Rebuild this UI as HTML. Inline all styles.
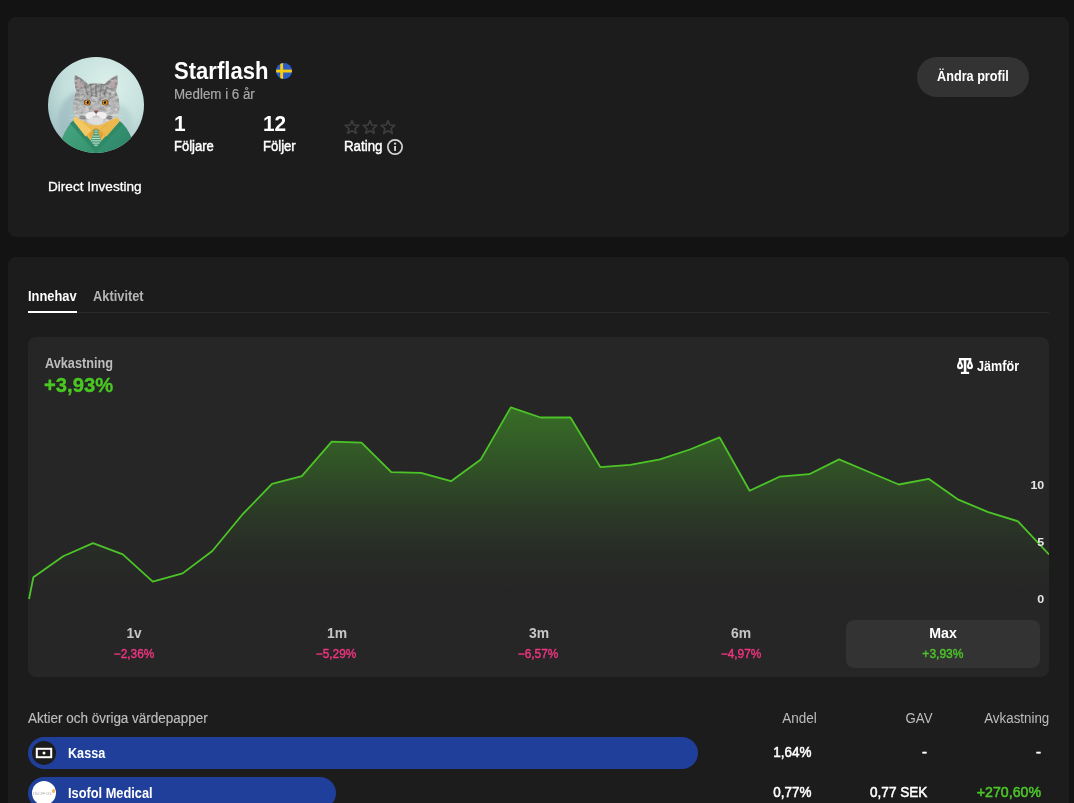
<!DOCTYPE html>
<html lang="sv">
<head>
<meta charset="utf-8">
<title>Starflash</title>
<style>
html,body{margin:0;padding:0;}
body{width:1074px;height:803px;overflow:hidden;background:#131313;position:relative;font-family:"Liberation Sans",sans-serif;}
.abs{position:absolute;}
.t{position:absolute;white-space:nowrap;line-height:1;}
.card{position:absolute;left:8px;width:1061px;background:#1c1c1c;border-radius:8px;}
</style>
</head>
<body>
<div class="card" style="top:17px;height:220px;"></div>
<div class="card" style="top:257px;height:600px;"></div>

<!-- avatar -->
<svg class="abs" style="left:48px;top:57px;" width="96" height="96" viewBox="0 0 96 96">
<defs>
<radialGradient id="abg" cx="0.62" cy="0.3" r="0.75"><stop offset="0" stop-color="#dcf0ea"/><stop offset="0.6" stop-color="#c4dfdc"/><stop offset="1" stop-color="#a3c2c6"/></radialGradient>
<clipPath id="ac"><circle cx="48" cy="48" r="48"/></clipPath>
</defs>
<g clip-path="url(#ac)">
<rect width="96" height="96" fill="url(#abg)"/>
<!--AV0--><defs>
<linearGradient id="fur" x1="0" y1="0" x2="0" y2="1"><stop offset="0" stop-color="#8c8c8c"/><stop offset="0.45" stop-color="#a8a8a8"/><stop offset="0.75" stop-color="#bcbcbc"/><stop offset="1" stop-color="#cfcfcf"/></linearGradient>
<radialGradient id="eye" cx="0.5" cy="0.5" r="0.5"><stop offset="0.3" stop-color="#f3a61c"/><stop offset="1" stop-color="#c8720a"/></radialGradient>
<linearGradient id="sw" x1="0" y1="0" x2="1" y2="0.4"><stop offset="0" stop-color="#48a581"/><stop offset="0.5" stop-color="#3b9a75"/><stop offset="1" stop-color="#2f876b"/></linearGradient>
<filter id="bl" x="-20%" y="-20%" width="140%" height="140%"><feGaussianBlur stdDeviation="0.7"/></filter>
<filter id="bl2" x="-30%" y="-30%" width="160%" height="160%"><feGaussianBlur stdDeviation="2.2"/></filter>
<filter id="furf" x="-5%" y="-5%" width="110%" height="110%">
<feTurbulence type="fractalNoise" baseFrequency="0.22 0.35" numOctaves="2" seed="7" result="n"/>
<feColorMatrix in="n" type="matrix" values="0 0 0 0 0  0 0 0 0 0  0 0 0 0 0  1.1 0 0 0 -0.42" result="a"/>
<feFlood flood-color="#ffffff" result="w"/>
<feComposite in="w" in2="a" operator="in" result="wn"/>
<feComposite in="wn" in2="SourceAlpha" operator="in" result="wn2"/>
<feTurbulence type="fractalNoise" baseFrequency="0.3 0.2" numOctaves="2" seed="3" result="n2"/>
<feColorMatrix in="n2" type="matrix" values="0 0 0 0 0  0 0 0 0 0  0 0 0 0 0  0 1.0 0 0 -0.42" result="a2"/>
<feFlood flood-color="#4a4a4a" result="d"/>
<feComposite in="d" in2="a2" operator="in" result="dn"/>
<feComposite in="dn" in2="SourceAlpha" operator="in" result="dn2"/>
<feMerge><feMergeNode in="SourceGraphic"/><feMergeNode in="dn2"/><feMergeNode in="wn2"/></feMerge>
</filter>
</defs>
<!-- soft shadow behind cat -->
<ellipse cx="34" cy="64" rx="24" ry="30" fill="#97b4bc" opacity="0.6" filter="url(#bl2)"/>
<ellipse cx="70" cy="66" rx="14" ry="18" fill="#a9c6c8" opacity="0.5" filter="url(#bl2)"/>
<!-- sweater -->
<path d="M25.5 63.5 C20 68 16 76 12 86 L10 100 L86 100 L84 82 C81 74 77 68 71.5 64 L48 89 Z" fill="url(#sw)"/>
<path d="M25.5 63.5 L48 89 L71.5 64 L75 67 L48 96 L22 66.5 Z" fill="#2f8a68"/>
<path d="M25.5 63.5 L48 89 L71.5 64" fill="none" stroke="#256f52" stroke-width="0.5"/>
<!-- shirt -->
<path d="M26.5 59.5 L70 60.5 L71.5 64.5 L48 89.5 L25.5 64 Z" fill="#eebb52"/>
<path d="M26.5 59.5 L36 66 L44.5 73 L37.5 79.5 L25.5 64 Z" fill="#f4c964"/>
<path d="M70 60.5 L60 66 L51.5 73 L58.5 79.5 L71.5 64.5 Z" fill="#eab84d"/>
<path d="M44.5 73 L48 70.5 L51.5 73 L55.5 78 L48 89.5 L40.5 78 Z" fill="#dfa238"/>
<path d="M36 66 L44.5 73 L37.5 79.5 M60 66 L51.5 73 L58.5 79.5" fill="none" stroke="#cf9a3a" stroke-width="0.4"/>
<!-- tie -->
<path d="M45.2 72.5 L50.8 72.5 L50.2 76 L53.6 84 L48 90 L42.4 84 L45.8 76 Z" fill="#459c79"/>
<g stroke="#e6f2ea" stroke-width="0.85" opacity="0.92"><path d="M44.6 79.2 L51.4 79.2 M43.7 81.5 L52.3 81.5 M43 83.8 L53 83.8 M44.4 86.1 L51.6 86.1 M46.2 88.2 L49.8 88.2 M46.4 74 L49.8 74 M46.4 76.3 L49.6 76.3"/></g>
<!-- ears -->
<g filter="url(#furf)">
<path d="M27 18.2 C25.8 24 27 31 29.5 37 L41 28.5 C37 23.5 31 19.5 27 18.2 Z" fill="#8b888a"/>
<path d="M69.3 18.2 C70.5 24 69.3 31 66.8 37 L55.3 28.5 C59.3 23.5 65.3 19.5 69.3 18.2 Z" fill="#8b888a"/>
</g>
<path d="M28.8 22.5 C28.4 26 29.4 30 31 33 L35.5 28.8 C33.5 25.8 31 23.5 28.8 22.5 Z" fill="#b9a3a6" filter="url(#bl)"/>
<path d="M67.5 22.5 C67.9 26 66.9 30 65.3 33 L60.8 28.8 C62.8 25.8 65.3 23.5 67.5 22.5 Z" fill="#b9a3a6" filter="url(#bl)"/>
<!-- head -->
<g filter="url(#furf)">
<path d="M29.5 33 C33 28 41 26.2 48 26.4 C55 26.2 63 28 67 33 C70.5 38 72.3 47 71 53.5 C70 59 66 62.5 60.5 64 C57 66.8 52 68.3 48 68.3 C44 68.3 39 66.8 35.5 64 C30 62.5 26.3 59 25.3 53.5 C24 47 25.8 38 29.5 33 Z" fill="url(#fur)"/>
</g>
<!-- dark stripes forehead -->
<g filter="url(#bl)" opacity="0.42"><path d="M42.5 27 L44 39 M48 26.5 L48 40 M53.5 27 L52 39 M37 29.5 L40 38 M59 29.5 L56 38" stroke="#555" stroke-width="1.7" fill="none"/></g>
<!-- light muzzle -->
<g filter="url(#bl)"><ellipse cx="43.2" cy="58.8" rx="6" ry="3.8" fill="#f0f0f0"/><ellipse cx="52.8" cy="58.8" rx="6" ry="3.8" fill="#f0f0f0"/><ellipse cx="48" cy="63.5" rx="7.5" ry="4" fill="#dedede"/>
<ellipse cx="48" cy="51" rx="3" ry="5" fill="#b5b5b5" opacity="0.7"/></g>
<g filter="url(#bl)" opacity="0.65"><ellipse cx="34.5" cy="60.5" rx="3.2" ry="2" fill="#666"/><ellipse cx="61.5" cy="60.5" rx="3.2" ry="2" fill="#666"/></g>
<!-- eyes -->
<ellipse cx="39.3" cy="45.4" rx="3.3" ry="3" fill="#4f4436"/>
<ellipse cx="57.2" cy="45.4" rx="3.3" ry="3" fill="#4f4436"/>
<circle cx="39.3" cy="45.5" r="2.6" fill="url(#eye)"/>
<circle cx="57.2" cy="45.5" r="2.6" fill="url(#eye)"/>
<ellipse cx="39.7" cy="45.3" rx="1.05" ry="1.6" fill="#170f06"/>
<ellipse cx="56.9" cy="45.3" rx="1.05" ry="1.6" fill="#170f06"/>
<circle cx="38.6" cy="44.3" r="0.5" fill="#fff" opacity="0.8"/><circle cx="56" cy="44.3" r="0.5" fill="#fff" opacity="0.8"/>
<!-- nose -->
<path d="M45.6 53.4 L50.6 53.4 L48.1 57 Z" fill="#884848"/>
<path d="M48.1 57 L48.1 59.2 M48.1 59.2 C47 60.3 45.5 60.2 44.8 59.4 M48.1 59.2 C49.2 60.3 50.7 60.2 51.4 59.4" stroke="#8a7f7f" stroke-width="0.5" fill="none"/>
<!-- whiskers -->
<g stroke="#eef4f4" stroke-width="0.3" opacity="0.75"><path d="M37 58 L21 58.5 M37 59.5 L22 62.5 M59 58 L75 58.5 M59 59.5 L74 62.5"/></g>
<!--AV1-->
</g>
</svg>

<!-- flag -->
<svg class="abs" style="left:276px;top:63px;" width="16" height="16" viewBox="0 0 16 16">
<defs><clipPath id="fc"><circle cx="8" cy="8" r="8"/></clipPath></defs>
<g clip-path="url(#fc)"><rect width="16" height="16" fill="#2b5cc6"/><rect x="4.2" y="0" width="2.9" height="16" fill="#f8cb10"/><rect x="0" y="6.6" width="16" height="2.9" fill="#f8cb10"/></g>
</svg>

<!-- stars -->
<svg class="abs" style="left:344px;top:119px;" width="54" height="17" viewBox="0 0 54 17">
<g fill="none" stroke="#3d3d3d" stroke-width="1.75" stroke-linejoin="round">
<path id="st" d="M8 1.6 L9.9 6 L14.7 6.4 L11.1 9.6 L12.2 14.3 L8 11.8 L3.8 14.3 L4.9 9.6 L1.3 6.4 L6.1 6 Z"/>
<use href="#st" x="18"/><use href="#st" x="36"/>
</g>
</svg>

<!-- info icon -->
<svg class="abs" style="left:387px;top:139px;" width="16" height="16" viewBox="0 0 16 16">
<circle cx="8" cy="8" r="7.15" fill="none" stroke="#d4d4d4" stroke-width="1.7"/>
<rect x="7.1" y="7" width="1.9" height="4.9" fill="#d4d4d4"/><circle cx="8.05" cy="4.7" r="1.15" fill="#d4d4d4"/>
</svg>

<!-- button -->
<div class="abs" style="left:917px;top:57px;width:112px;height:40px;border-radius:20px;background:#333333;"></div>

<!-- tabs -->
<div class="abs" style="left:28px;top:312px;width:1021px;height:1px;background:#2b2b2b;"></div>
<div class="abs" style="left:28px;top:311px;width:49px;height:2px;background:#ffffff;"></div>

<!-- panel -->
<div class="abs" style="left:28px;top:337px;width:1021px;height:340px;border-radius:8px;background:#262626;overflow:hidden;">
<svg class="abs" style="left:0;top:0;" width="1021" height="339" viewBox="28 337 1021 339">
<defs><linearGradient id="cg" gradientUnits="userSpaceOnUse" x1="0" y1="407" x2="0" y2="590"><stop offset="0" stop-color="#4cc428" stop-opacity="0.45"/><stop offset="0.3" stop-color="#4cc428" stop-opacity="0.29"/><stop offset="0.6" stop-color="#4cc428" stop-opacity="0.11"/><stop offset="0.8" stop-color="#4cc428" stop-opacity="0.035"/><stop offset="1" stop-color="#4cc428" stop-opacity="0"/></linearGradient></defs>
<path fill="url(#cg)" d="M29 599 L33.4 577.2 L63.2 556.3 L93 543.1 L122.8 554.3 L152.8 581.7 L182.6 573.4 L212.3 551 L242.2 514.7 L272 483.9 L301.8 476.2 L331.7 441.6 L361.5 442.6 L391.3 472.1 L421 472.8 L451 481.2 L480.8 459.4 L510.8 407.4 L540.6 417.5 L570.5 417.5 L600.4 467.1 L630.2 464.8 L660 459.4 L689.8 449.5 L719.6 437.4 L749.6 490.8 L779.4 476.7 L809.2 474.2 L839.1 459.4 L869 472 L898.8 484.5 L928.6 478.8 L958.4 499.7 L988.2 512.1 L1018 521.3 L1049 554.5 L1049 599 Z"/>
<path fill="none" stroke="#4cc428" stroke-width="1.8" stroke-linejoin="round" stroke-linecap="butt" d="M29 599 L33.4 577.2 L63.2 556.3 L93 543.1 L122.8 554.3 L152.8 581.7 L182.6 573.4 L212.3 551 L242.2 514.7 L272 483.9 L301.8 476.2 L331.7 441.6 L361.5 442.6 L391.3 472.1 L421 472.8 L451 481.2 L480.8 459.4 L510.8 407.4 L540.6 417.5 L570.5 417.5 L600.4 467.1 L630.2 464.8 L660 459.4 L689.8 449.5 L719.6 437.4 L749.6 490.8 L779.4 476.7 L809.2 474.2 L839.1 459.4 L869 472 L898.8 484.5 L928.6 478.8 L958.4 499.7 L988.2 512.1 L1018 521.3 L1049 554.5"/>
</svg>
</div>
<!-- max box -->
<div class="abs" style="left:846px;top:620px;width:194px;height:48px;border-radius:8px;background:#333333;"></div>

<!-- compare icon -->
<svg class="abs" style="left:957px;top:357.6px;" width="16" height="17" viewBox="0 0 16 17">
<g fill="#ffffff">
<rect x="2" y="0" width="12.2" height="2.3"/>
<rect x="6.75" y="0" width="2.6" height="14.5"/>
<rect x="3.9" y="13.8" width="8.2" height="2.2"/>
<path fill-rule="evenodd" d="M3 0.6 C2.2 3.4 0 6 0 8.2 A3 3 0 0 0 6 8.2 C6 6 3.8 3.4 3 0.6 Z M3 5.3 C2.6 6.5 2 7.3 2 8 A1 1 0 0 0 4 8 C4 7.3 3.4 6.5 3 5.3 Z"/>
<path fill-rule="evenodd" d="M13 0.6 C12.2 3.4 10 6 10 8.2 A3 3 0 0 0 16 8.2 C16 6 13.8 3.4 13 0.6 Z M13 5.3 C12.6 6.5 12 7.3 12 8 A1 1 0 0 0 14 8 C14 7.3 13.4 6.5 13 5.3 Z"/>
<path d="M1.9 0 L4.4 0 L4.4 3.5 L1.9 3.5 Z M11.7 0 L14.2 0 L14.2 3.5 L11.7 3.5 Z"/>
</g>
</svg>

<!-- bars -->
<div class="abs" style="left:28px;top:737px;width:670px;height:32px;border-radius:16px;background:#1f3f9a;"></div>
<div class="abs" style="left:32px;top:741px;width:24px;height:24px;border-radius:12px;background:#1c1c1c;"></div>
<svg class="abs" style="left:32px;top:741px;" width="24" height="24" viewBox="0 0 24 24"><rect x="4.8" y="7.8" width="14.4" height="8.4" fill="none" stroke="#fff" stroke-width="2"/><circle cx="12" cy="12" r="1.5" fill="#fff"/></svg>

<div class="abs" style="left:28px;top:777px;width:308px;height:32px;border-radius:16px;background:#1f3f9a;"></div>
<div class="abs" style="left:32px;top:781px;width:24px;height:24px;border-radius:12px;background:#ffffff;overflow:hidden;">
<div class="t" style="left:0.8px;top:11.4px;font-size:4.2px;font-weight:400;color:#a8a8a8;letter-spacing:0.15px;transform:scaleX(1.2);transform-origin:0 50%;">ISOFOL</div>
<div class="abs" style="left:19.8px;top:8.4px;width:3.2px;height:3.2px;border-radius:2px;background:#f7b45a;"></div>
</div>

<div class="t" id="name" style="left:174px;top:59.50px;font-size:23px;font-weight:700;color:#ffffff;transform:scaleX(0.9592);transform-origin:0 50%;">Starflash</div>
<div class="t" id="member" style="left:174px;top:87.00px;font-size:14px;font-weight:400;color:#a8a8a8;transform:scaleX(0.9529);transform-origin:0 50%;-webkit-text-stroke:0.2px currentColor;">Medlem i 6 år</div>
<div class="t" id="n1" style="left:174px;top:112.50px;font-size:22px;font-weight:700;color:#ffffff;transform:scaleX(0.9500);transform-origin:0 50%;">1</div>
<div class="t" id="n12" style="left:263px;top:112.50px;font-size:22px;font-weight:700;color:#ffffff;transform:scaleX(0.9458);transform-origin:0 50%;">12</div>
<div class="t" id="foljare" style="left:174px;top:139.00px;font-size:14px;font-weight:400;color:#ffffff;transform:scaleX(0.9302);transform-origin:0 50%;-webkit-text-stroke:0.45px currentColor;">Följare</div>
<div class="t" id="foljer" style="left:263px;top:139.00px;font-size:14px;font-weight:400;color:#ffffff;transform:scaleX(0.9343);transform-origin:0 50%;-webkit-text-stroke:0.45px currentColor;">Följer</div>
<div class="t" id="rating" style="left:343.7px;top:139.00px;font-size:14px;font-weight:400;color:#ffffff;transform:scaleX(0.9500);transform-origin:0 50%;-webkit-text-stroke:0.45px currentColor;">Rating</div>
<div class="t" id="direct" style="left:48.1px;top:179.85px;font-size:13.3px;font-weight:400;color:#ffffff;transform:scaleX(1.0217);transform-origin:0 50%;-webkit-text-stroke:0.3px #fff;">Direct Investing</div>
<div class="t" id="btn" style="left:937px;top:69.00px;font-size:14px;font-weight:700;color:#ffffff;transform:scaleX(0.9051);transform-origin:0 50%;">Ändra profil</div>
<div class="t" id="tab1" style="left:27.8px;top:288.70px;font-size:14.6px;font-weight:700;color:#ffffff;transform:scaleX(0.8818);transform-origin:0 50%;">Innehav</div>
<div class="t" id="tab2" style="left:93px;top:288.70px;font-size:14.6px;font-weight:700;color:#b4b4b4;transform:scaleX(0.8793);transform-origin:0 50%;">Aktivitet</div>
<div class="t" id="avk" style="left:44.7px;top:355.00px;font-size:15px;font-weight:700;color:#bdbdbd;transform:scaleX(0.8475);transform-origin:0 50%;">Avkastning</div>
<div class="t" id="big" style="left:44.3px;top:375.10px;font-size:20.8px;font-weight:700;color:#4ac822;transform:scaleX(0.9718);transform-origin:0 50%;-webkit-text-stroke:0.35px currentColor;">+3,93%</div>
<div class="t" id="jam" style="left:977.2px;top:358.70px;font-size:14.6px;font-weight:700;color:#ffffff;transform:scaleX(0.8653);transform-origin:0 50%;">Jämför</div>
<div class="t" id="ax10" style="right:30px;top:479.50px;font-size:11px;font-weight:700;color:#e6e6e6;transform:scaleX(1.1250);transform-origin:100% 50%;">10</div>
<div class="t" id="ax5" style="right:30px;top:536.50px;font-size:11px;font-weight:700;color:#e6e6e6;transform:scaleX(1.1333);transform-origin:100% 50%;">5</div>
<div class="t" id="ax0" style="right:30px;top:593.50px;font-size:11px;font-weight:700;color:#e6e6e6;transform:scaleX(1.1333);transform-origin:100% 50%;">0</div>
<div class="t" id="p1" style="left:134.3px;top:625.70px;font-size:14.6px;font-weight:700;color:#c6c6c6;transform:translateX(-50%) scaleX(0.9375);transform-origin:50% 50%;">1v</div>
<div class="t" id="p2" style="left:336.5px;top:625.70px;font-size:14.6px;font-weight:700;color:#c6c6c6;transform:translateX(-50%) scaleX(0.9524);transform-origin:50% 50%;">1m</div>
<div class="t" id="p3" style="left:538.6px;top:625.70px;font-size:14.6px;font-weight:700;color:#c6c6c6;transform:translateX(-50%) scaleX(0.9524);transform-origin:50% 50%;">3m</div>
<div class="t" id="p4" style="left:740.8px;top:625.70px;font-size:14.6px;font-weight:700;color:#c6c6c6;transform:translateX(-50%) scaleX(0.9524);transform-origin:50% 50%;">6m</div>
<div class="t" id="p5" style="left:943.1px;top:625.70px;font-size:14.6px;font-weight:700;color:#ffffff;transform:translateX(-50%) scaleX(0.9714);transform-origin:50% 50%;">Max</div>
<div class="t" id="v1" style="left:133.8px;top:648.00px;font-size:12px;font-weight:400;color:#ee3580;transform:translateX(-50%) scaleX(0.9878);transform-origin:50% 50%;-webkit-text-stroke:0.4px currentColor;">−2,36%</div>
<div class="t" id="v2" style="left:336.2px;top:648.00px;font-size:12px;font-weight:400;color:#ee3580;transform:translateX(-50%) scaleX(0.9878);transform-origin:50% 50%;-webkit-text-stroke:0.4px currentColor;">−5,29%</div>
<div class="t" id="v3" style="left:538.4px;top:648.00px;font-size:12px;font-weight:400;color:#ee3580;transform:translateX(-50%) scaleX(0.9878);transform-origin:50% 50%;-webkit-text-stroke:0.4px currentColor;">−6,57%</div>
<div class="t" id="v4" style="left:740.6px;top:648.00px;font-size:12px;font-weight:400;color:#ee3580;transform:translateX(-50%) scaleX(0.9878);transform-origin:50% 50%;-webkit-text-stroke:0.4px currentColor;">−4,97%</div>
<div class="t" id="v5" style="left:942.9px;top:648.00px;font-size:12px;font-weight:400;color:#4cc52a;transform:translateX(-50%) scaleX(1.0000);transform-origin:50% 50%;-webkit-text-stroke:0.4px currentColor;">+3,93%</div>
<div class="t" id="sec" style="left:28px;top:711.00px;font-size:14px;font-weight:400;color:#bdbdbd;transform:scaleX(0.9626);transform-origin:0 50%;-webkit-text-stroke:0.15px currentColor;">Aktier och övriga värdepapper</div>
<div class="t" id="hA" style="right:257.5px;top:711.00px;font-size:14px;font-weight:400;color:#bdbdbd;transform:scaleX(0.9639);transform-origin:100% 50%;">Andel</div>
<div class="t" id="hG" style="right:141px;top:711.00px;font-size:14px;font-weight:400;color:#bdbdbd;transform:scaleX(0.9448);transform-origin:100% 50%;">GAV</div>
<div class="t" id="hR" style="right:25.200000000000045px;top:711.00px;font-size:14px;font-weight:400;color:#bdbdbd;transform:scaleX(0.9529);transform-origin:100% 50%;">Avkastning</div>
<div class="t" id="kassa" style="left:67.8px;top:745.70px;font-size:14.6px;font-weight:700;color:#ffffff;transform:scaleX(0.8651);transform-origin:0 50%;">Kassa</div>
<div class="t" id="iso" style="left:68px;top:785.70px;font-size:14.6px;font-weight:700;color:#ffffff;transform:scaleX(0.8763);transform-origin:0 50%;">Isofol Medical</div>
<div class="t" id="a1" style="right:262.20000000000005px;top:744.00px;font-size:15px;font-weight:400;color:#ffffff;transform:scaleX(0.8977);transform-origin:100% 50%;-webkit-text-stroke:0.55px currentColor;">1,64%</div>
<div class="t" id="g1" style="right:147px;top:744.00px;font-size:15px;font-weight:400;color:#ffffff;transform:scaleX(1.0000);transform-origin:100% 50%;-webkit-text-stroke:0.55px currentColor;">-</div>
<div class="t" id="r1" style="right:33px;top:744.00px;font-size:15px;font-weight:400;color:#ffffff;transform:scaleX(1.0000);transform-origin:100% 50%;-webkit-text-stroke:0.55px currentColor;">-</div>
<div class="t" id="a2" style="right:262px;top:784.00px;font-size:15px;font-weight:400;color:#ffffff;transform:scaleX(0.8977);transform-origin:100% 50%;-webkit-text-stroke:0.55px currentColor;">0,77%</div>
<div class="t" id="g2" style="right:147px;top:784.00px;font-size:15px;font-weight:400;color:#ffffff;transform:scaleX(0.9048);transform-origin:100% 50%;-webkit-text-stroke:0.55px currentColor;">0,77 SEK</div>
<div class="t" id="r2" style="right:33px;top:784.00px;font-size:15px;font-weight:400;color:#4cc52a;transform:scaleX(0.9441);transform-origin:100% 50%;-webkit-text-stroke:0.55px currentColor;">+270,60%</div>
</body>
</html>
